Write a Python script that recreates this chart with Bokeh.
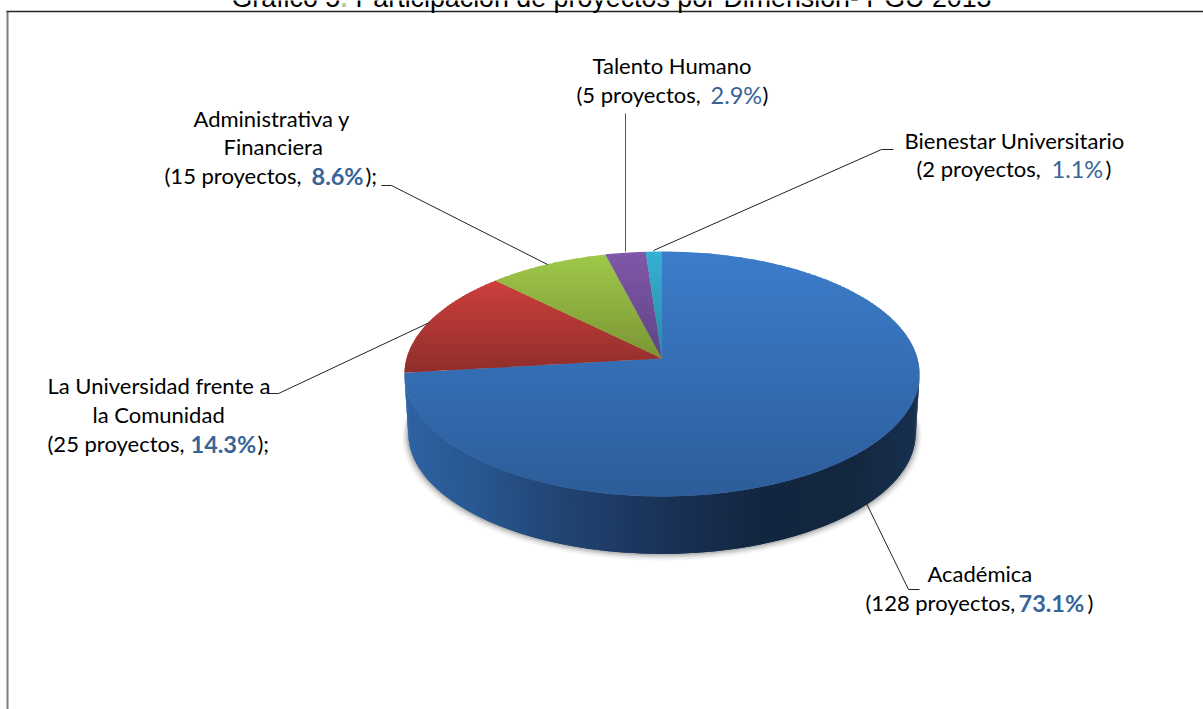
import math
from bokeh.plotting import figure
from bokeh.models import Range1d
from bokeh.core.properties import value
from bokeh.embed import file_html
from bokeh.resources import INLINE

# ---- data ----
categories = ["Académica", "La Universidad frente a la Comunidad",
              "Administrativa y Financiera", "Talento Humano", "Bienestar Universitario"]
projects = [128, 25, 15, 5, 2]
percents = ["73.1%", "14.3%", "8.6%", "2.9%", "1.1%"]
title_parts = ["Gráfico 5", ":", "Participación de proyectos por Dimensión- PGU 2013"]

W, H = 1203, 709
p = figure(width=W, height=H, output_backend="svg", toolbar_location=None,
           x_range=Range1d(0, W), y_range=Range1d(H, 0), min_border=0,
           outline_line_color=None, background_fill_color="white", border_fill_color="white")
p.xaxis.visible = False
p.yaxis.visible = False
p.grid.visible = False

# ---- 3-D projection of the pie ----
CX, CY = 661.5, 358.0
A, B, K = 255.5, 120.5, 0.1265
DEPTH_CY, DEPTH_SCALE = 417.5, 0.985


def proj(deg, cy=CY, s=1.0):
    t = math.radians(deg)
    w = 1 + K * math.cos(t)
    return CX + s * A * math.sin(t) / w, cy - s * B * math.cos(t) / w


def lerp_hex(c0, c1, f):
    f = max(0, min(1, f))
    a = [int(c0[i:i + 2], 16) for i in (1, 3, 5)]
    b = [int(c1[i:i + 2], 16) for i in (1, 3, 5)]
    return "#%02x%02x%02x" % tuple(round(u + (v - u) * f) for u, v in zip(a, b))


def stops_color(stops, x):
    if x <= stops[0][0]:
        return stops[0][1]
    for (x0, c0), (x1, c1) in zip(stops, stops[1:]):
        if x <= x1:
            return lerp_hex(c0, c1, (x - x0) / (x1 - x0))
    return stops[-1][1]


def clip(poly, y0, y1):
    def half(pts, inside, cut):
        out = []
        for i, q in enumerate(pts):
            r = pts[(i + 1) % len(pts)]
            qi, ri = inside(q), inside(r)
            if qi:
                out.append(q)
            if qi != ri:
                f = (cut - q[1]) / (r[1] - q[1])
                out.append((q[0] + (r[0] - q[0]) * f, cut))
        return out
    a = half(poly, lambda q: q[1] >= y0, y0)
    return half(a, lambda q: q[1] <= y1, y1) if a else []


# shadow under the wall
shadow = [(6.0, 0.05), (4.5, 0.08), (3.0, 0.14), (1.5, 0.22)]
for off, alpha in shadow:
    pts = [proj(d, DEPTH_CY + off * 0.6, DEPTH_SCALE + off / 256) for d in range(0, 360, 2)]
    p.patch([q[0] for q in pts], [q[1] for q in pts], fill_color="#555555", fill_alpha=alpha, line_color=None)

# outer wall (each strip runs under the next one painted)
wall_stops = [(405, "#2e62a3"), (480, "#28568f"), (560, "#214472"), (660, "#1a3358"),
              (760, "#13263f"), (850, "#13273f"), (917, "#18304f")]
lim = math.degrees(math.acos(-K))
N = 170
deg = lambda i: lim + (360 - 2 * lim) * min(i, N) / N
xs, ys, cols = [], [], []
for i in range(N):
    a0, a1 = proj(deg(i)), proj(deg(i + 2))
    b0, b1 = proj(deg(i), DEPTH_CY, DEPTH_SCALE), proj(deg(i + 2), DEPTH_CY, DEPTH_SCALE)
    xs.append([a0[0], a1[0], b1[0], b0[0]])
    ys.append([a0[1], a1[1], b1[1], b0[1]])
    cols.append(stops_color(wall_stops, proj(deg(i + 0.5))[0]))
order = sorted(range(N), key=lambda j: -min(xs[j]))
p.patches([xs[j] for j in order], [ys[j] for j in order],
          fill_color=[cols[j] for j in order], line_color=None)

# top face
gradients = [("#3c7dcb", "#2d5d9a"), ("#cd3f3c", "#8f2e2b"), ("#9fc84a", "#7a9635"),
             ("#8058a9", "#5e4483"), ("#36b0d3", "#2b8aa6")]
total = sum(projects)
start = 0.0
for val, (c0, c1) in zip(projects, gradients):
    sweep = 360.0 * val / total
    n = max(4, int(sweep))
    poly = [(CX, CY)] + [proj(start + sweep * j / n) for j in range(n + 1)]
    top = min(q[1] for q in poly)
    bot = max(q[1] for q in poly)
    xs, ys, cols = [], [], []
    y = top
    while y < bot:
        part = clip(poly, y, min(y + 3, bot))
        if len(part) >= 3:
            xs.append([q[0] for q in part])
            ys.append([q[1] for q in part])
            cols.append(lerp_hex(c0, c1, (y + 1 - top) / (bot - top)))
        y += 2
    p.patches(xs, ys, fill_color=cols, line_color=None)
    start += sweep

# frame
p.line([7, 7], [11, 709], line_color="#7f7f7f", line_width=2)
p.line([6, 1203], [11, 11], line_color="#262626", line_width=1.6)

# leader lines
for lx, ly, col in [
    ([625, 625], [113, 251], "#555555"),
    ([893, 881, 653], [149, 149, 250], "#222222"),
    ([381, 391, 547], [185, 185, 264], "#222222"),
    ([267, 278, 429], [393, 393, 322], "#222222"),
    ([866, 908, 919], [503, 589, 589], "#222222"),
]:
    p.line(lx, ly, line_color=col, line_width=1)

FONT = "Lato"
SIZE = "22px"
PSIZE = "23.5px"
BLUE = "#376497"


def put(x, y, s, bold=False, color="black", font=FONT, size=SIZE):
    p.text([x], [y], text=[s], text_font=value(font), text_font_size=value(size),
           text_color=color, text_font_style="bold" if bold else "normal",
           text_align="left", text_baseline="alphabetic")


put(592, 65, categories[3])
put(576, 94, f"({projects[3]} proyectos,")
put(710, 94, percents[3], color=BLUE, size=PSIZE)
put(762, 94, ")")

put(904, 140, categories[4])
put(916, 168, f"({projects[4]} proyectos,")
put(1051, 168, percents[4], color=BLUE, size=PSIZE)
put(1105, 168, ")")

put(193, 118, "Administrativa y")
put(223, 146, "Financiera")
put(164, 175, f"({projects[2]} proyectos,")
put(311, 175, percents[2], bold=True, color=BLUE, size=PSIZE)
put(365, 175, ");")

put(47, 385, "La Universidad frente a")
put(92, 414, "la Comunidad")
put(47, 443, f"({projects[1]} proyectos,")
put(190, 443, percents[1], bold=True, color=BLUE, size=PSIZE)
put(257, 443, ");")

put(927, 573, categories[0])
put(865, 602, f"({projects[0]} proyectos,")
put(1018, 602, percents[0], bold=True, color=BLUE, size=PSIZE)
put(1087, 602, ")")

# title (cut by the top of the page, as in the reference)
TS = "26.8px"
put(231, -3, title_parts[0], font="Liberation Sans", size=TS)
put(339, -3, title_parts[1], font="Liberation Sans", size=TS, bold=True, color="#b5c99a")
put(355, -3, title_parts[2], font="Liberation Sans", size=TS)

open("out.html", "w").write(file_html(p, INLINE))
